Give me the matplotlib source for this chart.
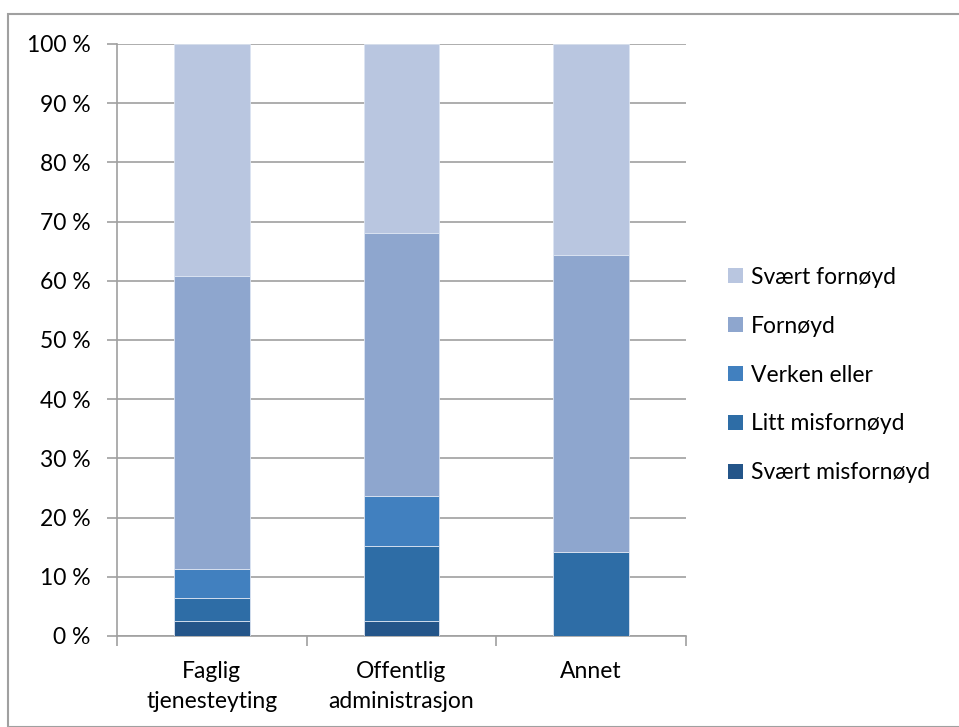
import numpy as np
import matplotlib.pyplot as plt
from matplotlib.patches import Patch, Rectangle

plt.rcParams['font.family'] = ['Lato', 'DejaVu Sans']

categories = ["Faglig\ntjenesteyting", "Offentlig\nadministrasjon", "Annet"]
svaert_misfornoyd = [2.5, 2.5, 0.0]
litt_misfornoyd = [3.9, 12.7, 14.2]
verken_eller = [5.0, 8.4, 0.0]
fornoyd = [49.4, 44.5, 50.2]
svaert_fornoyd = [39.2, 31.9, 35.6]

series = [
    ("Svært misfornøyd", svaert_misfornoyd, "#245589"),
    ("Litt misfornøyd", litt_misfornoyd, "#2E6DA6"),
    ("Verken eller", verken_eller, "#4180BF"),
    ("Fornøyd", fornoyd, "#8EA6CE"),
    ("Svært fornøyd", svaert_fornoyd, "#B9C6E0"),
]

grid_col = "#A0A0A0"
fs = 16.5

fig = plt.figure(figsize=(9.59, 7.27), dpi=100)
ax = fig.add_axes([117/959, 1-636/727, (686-117)/959, (636-44)/727])

x = np.arange(len(categories))
bottom = np.zeros(len(categories))
for name, vals, col in series:
    ax.bar(x, vals, width=0.4, bottom=bottom, color=col, edgecolor="#DCE4F2",
           linewidth=0.6, label=name, zorder=3)
    bottom += np.array(vals)

ax.set_xlim(-0.5, len(categories)-0.5)
ax.set_ylim(0, 100)
ax.set_yticks(np.arange(0, 101, 10))
ax.set_yticklabels([f"{v} %" for v in range(0, 101, 10)])
ax.yaxis.grid(True, color=grid_col, linewidth=1.2, zorder=0)
ax.set_axisbelow(True)

ax.set_xticks(x)
ax.set_xticklabels(categories, linespacing=1.5)
ax.set_xticks(np.arange(-0.5, len(categories), 1.0), minor=True)
ax.tick_params(axis='x', which='major', length=0, pad=18, labelsize=fs)
ax.tick_params(axis='x', which='minor', length=7, width=1.2, color=grid_col)
ax.tick_params(axis='y', length=7, width=1.2, color=grid_col, pad=12, labelsize=fs)

for s in ['top', 'right']:
    ax.spines[s].set_visible(False)
for s in ['left', 'bottom']:
    ax.spines[s].set_color(grid_col)
    ax.spines[s].set_linewidth(1.2)

handles = [Patch(facecolor=col, edgecolor='none', label=name) for name, vals, col in series][::-1]
fig.legend(handles=handles, loc='center left', bbox_to_anchor=(728/959, 1-375/727),
           frameon=False, fontsize=fs, handlelength=0.65, handleheight=0.65,
           handletextpad=0.35, labelspacing=1.22, borderaxespad=0, borderpad=0)

# outer chart border
fig.patches.append(Rectangle((8/959, 0), 1.2, (727-14)/727, transform=fig.transFigure,
                             fill=False, edgecolor=grid_col, linewidth=1.5))

fig.savefig("out.png", dpi=100)
